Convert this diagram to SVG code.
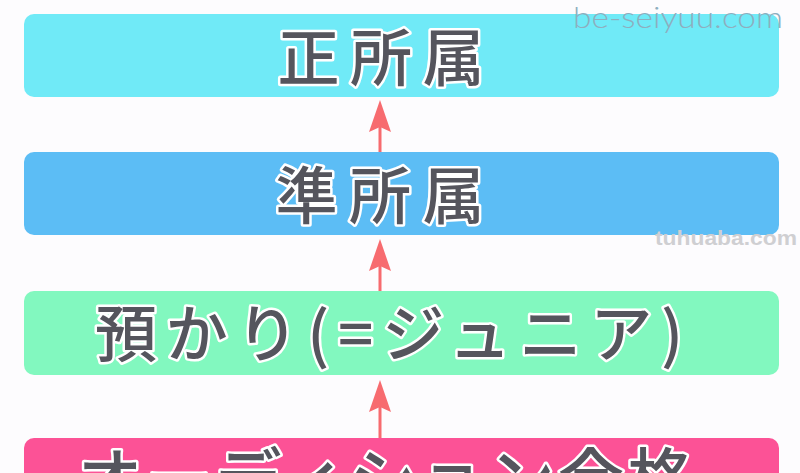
<svg xmlns="http://www.w3.org/2000/svg" width="800" height="473" viewBox="0 0 800 473">
<defs>
<style>
.box{stroke:none}
.lbl{font-family:"Noto Sans CJK JP","Noto Sans CJK SC",sans-serif;font-weight:500;fill:#55555d;stroke:#ffffff;stroke-width:5;stroke-linejoin:round;paint-order:stroke;text-anchor:middle}
.arr{fill:#f76b6f;stroke:none}
.shaft{stroke:#f76b6f;stroke-width:3}
</style>
</defs>
<rect width="800" height="473" fill="#fdfcfe"/>
<g id="connectors">
<g id="a1"><line class="shaft" x1="380" y1="125" x2="380" y2="152"/><path class="arr" d="M380,100 L391,132 L380,127 L369,132 Z"/></g>
<g id="a2"><line class="shaft" x1="380" y1="264" x2="380" y2="291"/><path class="arr" d="M380,239 L391,271 L380,266 L369,271 Z"/></g>
<g id="a3"><line class="shaft" x1="380" y1="405" x2="380" y2="438"/><path class="arr" d="M380,380 L391,412 L380,407 L369,412 Z"/></g>
</g>
<g id="n1"><rect class="box" x="24" y="14" width="755" height="83" rx="10" fill="#70eaf7"/><text class="lbl" x="381" y="81" font-size="62" textLength="207" lengthAdjust="spacing">正所属</text></g>
<g id="n2"><rect class="box" x="24" y="152" width="755" height="83" rx="10" fill="#5cbdf5"/><text class="lbl" x="380" y="219" font-size="62" textLength="209" lengthAdjust="spacing">準所属</text></g>
<g id="n3"><rect class="box" x="24" y="291" width="755" height="84" rx="10" fill="#82f8bf"/><text class="lbl" x="389" y="357" font-size="62" textLength="588" lengthAdjust="spacing">預かり(=ジュニア)</text></g>
<g id="n4"><rect class="box" x="24" y="438" width="755" height="60" rx="10" fill="#fc5296"/><text class="lbl" x="385" y="503" font-size="66" textLength="617" lengthAdjust="spacing">オーディション合格</text></g>
<text x="573" y="28" font-family="Lato,sans-serif" font-weight="300" font-size="29" fill="#8eaebe" textLength="210" lengthAdjust="spacingAndGlyphs">be-seiyuu.com</text>
<text x="655" y="245" font-family="'Liberation Sans',sans-serif" font-weight="700" font-size="21" fill="#cfcfd2" textLength="142" lengthAdjust="spacingAndGlyphs">tuhuaba.com</text>
</svg>
